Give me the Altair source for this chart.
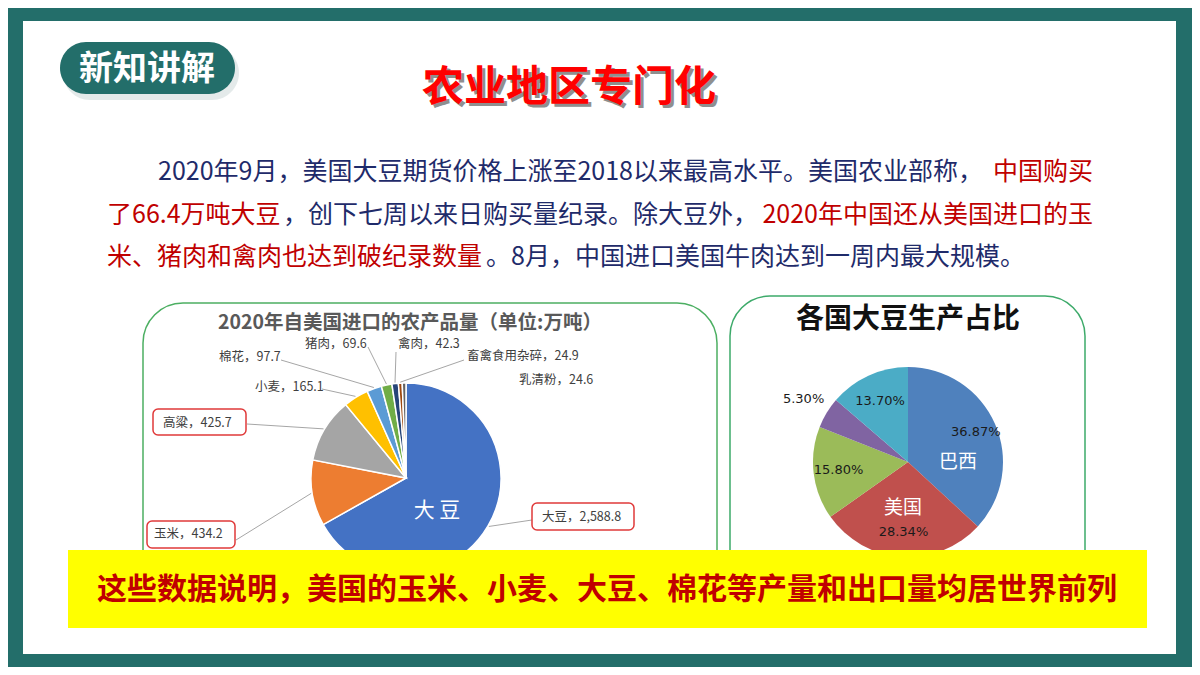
import math
import altair as alt
import pandas as pd

# ---------------- data ----------------
crops = ["大豆", "玉米", "高粱", "小麦", "棉花", "猪肉", "禽肉", "畜禽食用杂碎", "乳清粉"]
crop_values = [2588.8, 434.2, 425.7, 165.1, 97.7, 69.6, 42.3, 24.9, 24.6]
crop_colors = ["#4472C4", "#ED7D31", "#A5A5A5", "#FFC000", "#5B9BD5",
               "#70AD47", "#264478", "#9E480E", "#636363"]

countries = ["巴西", "美国", "阿根廷", "中国", "其他"]
country_shares = [36.87, 28.34, 15.80, 5.30, 13.70]
country_colors = ["#4F81BD", "#C0504D", "#9BBB59", "#8064A2", "#4BACC6"]
country_named = ["巴西", "美国"]

# ---------------- layout ----------------
W, H, OFF = 1184, 659, 8
TEAL = "#236E6A"
NAVY = "#1F2B6A"
DRED = "#C00000"
PIE1 = (406, 478, 95)
PIE2 = (908, 462, 95)

# left-pie label layout: text left x, text y, leader start (x, y) or None, box
left_label_layout = {
    "大豆": (542, 517, (532, 520), (532, 503, 634, 530)),
    "玉米": (154, 534, (236, 540), (147, 521, 235, 548)),
    "高粱": (163, 423, (247, 424), (153, 409, 246, 435)),
    "小麦": (255, 387, (322, 389), None),
    "棉花": (219, 357, (281, 360), None),
    "猪肉": (305, 344, (368, 347), None),
    "禽肉": (398, 344, (396, 352), None),
    "畜禽食用杂碎": (467, 356, (464, 360), None),
    "乳清粉": (519, 380, None, None),
}
right_label_radius = [74, 70, 70, 122, 67]
right_name_pos = {"巴西": (958, 462), "美国": (903, 508)}

XS = alt.Scale(domain=[OFF, W + OFF], range=[0, W], nice=False, zero=False)
YS = alt.Scale(domain=[OFF, H + OFF], range=[0, H], nice=False, zero=False)


def X(f):
    return alt.X(f, type="quantitative", scale=XS, axis=None)


def Y(f):
    return alt.Y(f, type="quantitative", scale=YS, axis=None)


def rect(x1, y1, x2, y2, **mark):
    df = pd.DataFrame([dict(x=x1, y=y1, x2=x2, y2=y2)])
    return alt.Chart(df).mark_rect(**mark).encode(
        x=X("x"), x2=alt.X2("x2"), y=Y("y"), y2=alt.Y2("y2"))


def text(rows, size, color, weight="normal", align="left",
         font="Noto Sans CJK SC"):
    df = pd.DataFrame(rows, columns=["x", "y", "t"])
    return alt.Chart(df).mark_text(
        font=font, fontSize=size, fontWeight=weight, color=color,
        align=align, baseline="middle").encode(x=X("x"), y=Y("y"), text="t:N")


layers = []

# background frame
layers.append(rect(23, 21, 1176, 654, color="white"))

# badge
layers.append(rect(63, 46, 239, 100, color="#c9d6d5", opacity=0.5, cornerRadius=27))
layers.append(rect(60, 42, 235, 94, color=TEAL, cornerRadius=26))
layers.append(text([(147, 70, "新知讲解")], 34, "white", "bold", "center"))

# main title with shadow
layers.append(text([(572, 91, "农业地区专门化")], 42, "#8f8f8f", "bold", "center"))
layers.append(text([(569, 88, "农业地区专门化")], 42, "#FF0000", "bold", "center"))

# paragraph
PS = 25
layers.append(text([(158, 172, "2020年9月，美国大豆期货价格上涨至2018以来最高水平。美国农业部称，"),
                    (283, 215, "，创下七周以来日购买量纪录。除大豆外，"),
                    (486, 257, "。8月，中国进口美国牛肉达到一周内最大规模。")], PS, NAVY))
layers.append(text([(107, 215, "了66.4万吨大豆"),
                    (107, 257, "米、猪肉和禽肉也达到破纪录数量")], PS, DRED))
layers.append(text([(1093, 172, "中国购买"),
                    (1093, 215, "2020年中国还从美国进口的玉")], PS, DRED, align="right"))

# panels (bottoms hidden behind the banner)
layers.append(rect(143, 303, 717, 620, fill="white", stroke="#4CAF62",
                   strokeWidth=1.5, cornerRadius=40))
layers.append(rect(730, 296, 1085, 620, fill="white", stroke="#3DAA6A",
                   strokeWidth=1.5, cornerRadius=40))

# chart titles
layers.append(text([(410, 323, "2020年自美国进口的农产品量（单位:万吨）")], 19.5, "#595959", "bold", "center"))
layers.append(text([(908, 320, "各国大豆生产占比")], 28, "#111111", "bold", "center"))

# ---- left pie ----
dfL = pd.DataFrame({"name": crops, "v": crop_values, "i": range(len(crops))})
layers.append(alt.Chart(dfL).mark_arc(outerRadius=PIE1[2], stroke="white", strokeWidth=1.5).encode(
    theta=alt.Theta("v:Q", stack=True),
    color=alt.Color("name:N", scale=alt.Scale(domain=crops, range=crop_colors), legend=None),
    order=alt.Order("i:Q"),
    x=alt.value(PIE1[0] - OFF), y=alt.value(PIE1[1] - OFF)))

total = sum(crop_values)
cum = 0.0
lines, boxes, lab_rows = [], [], []
for name, v in zip(crops, crop_values):
    mid = (cum + v / 2) / total * 2 * math.pi
    cum += v
    ex = PIE1[0] + (PIE1[2] + 1) * math.sin(mid)
    ey = PIE1[1] - (PIE1[2] + 1) * math.cos(mid)
    tx, ty, start, box = left_label_layout[name]
    lab_rows.append((tx, ty, f"{name}，{v:,.1f}"))
    if start is not None:
        lines.append(dict(x=start[0], y=start[1], x2=ex, y2=ey))
    if box is not None:
        boxes.append(dict(x=box[0], y=box[1], x2=box[2], y2=box[3]))

layers.append(alt.Chart(pd.DataFrame(lines)).mark_rule(color="#A6A6A6", strokeWidth=1).encode(
    x=X("x"), y=Y("y"), x2=alt.X2("x2"), y2=alt.Y2("y2")))
layers.append(alt.Chart(pd.DataFrame(boxes)).mark_rect(
    fill="white", stroke="#E03A3A", strokeWidth=1.5, cornerRadius=5).encode(
    x=X("x"), x2=alt.X2("x2"), y=Y("y"), y2=alt.Y2("y2")))
layers.append(text(lab_rows, 12.5, "#404040"))
layers.append(text([(437, 511, "大 豆")], 21, "white", align="center"))

# ---- right pie ----
dfR = pd.DataFrame({"name": countries, "v": country_shares, "i": range(len(countries))})
layers.append(alt.Chart(dfR).mark_arc(outerRadius=PIE2[2]).encode(
    theta=alt.Theta("v:Q", stack=True),
    color=alt.Color("name:N", scale=alt.Scale(domain=countries, range=country_colors), legend=None),
    order=alt.Order("i:Q"),
    x=alt.value(PIE2[0] - OFF), y=alt.value(PIE2[1] - OFF)))

totR = sum(country_shares)
cum = 0.0
pct_rows = []
for name, v, r in zip(countries, country_shares, right_label_radius):
    mid = (cum + v / 2) / totR * 2 * math.pi
    cum += v
    pct_rows.append((PIE2[0] + r * math.sin(mid), PIE2[1] - r * math.cos(mid), f"{v:.2f}%"))
layers.append(text(pct_rows, 13, "#1a1a1a", align="center", font="DejaVu Sans"))
layers.append(text([(right_name_pos[n][0], right_name_pos[n][1], n) for n in country_named],
                   19, "white", align="center"))

# banner
layers.append(rect(68, 550, 1147, 628, color="#FFFF00"))
layers.append(text([(607, 590, "这些数据说明，美国的玉米、小麦、大豆、棉花等产量和出口量均居世界前列")],
                   30, DRED, "bold", "center"))

chart = alt.layer(*layers).resolve_scale(
    theta="independent", color="independent"
).properties(
    width=W, height=H, padding=0, background=TEAL,
    autosize=alt.AutoSizeParams(type="none"),
).configure_view(strokeWidth=0)

chart.save("out.html", embed_options={"renderer": "svg", "actions": False})
